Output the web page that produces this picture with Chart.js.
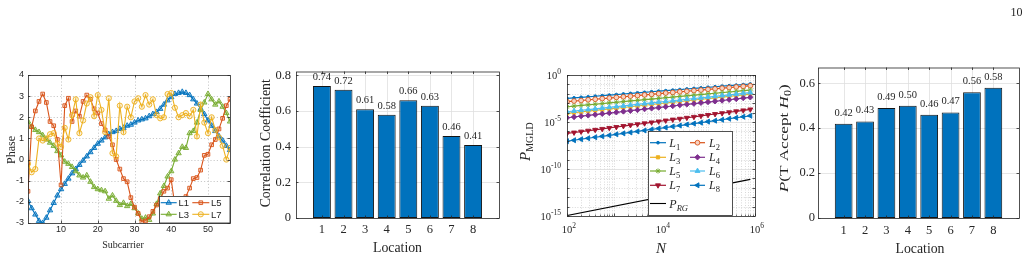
<!DOCTYPE html>
<html><head><meta charset="utf-8">
<script src="https://cdn.jsdelivr.net/npm/chart.js@4.4.1/dist/chart.umd.min.js"></script>
<style>
html,body{margin:0;padding:0;background:#fff;}
body{width:1030px;height:260px;position:relative;overflow:hidden;}
canvas{position:absolute;}
</style></head><body>
<canvas id="c1"></canvas><canvas id="c2"></canvas><canvas id="c3"></canvas><canvas id="c4"></canvas><canvas id="pg" width="30" height="22" style="left:1000px;top:0px;width:30px;height:22px"></canvas>
<script>
// ---------- DATA ----------
const pageNumber = '10';
const subcarriers = [1,2,3,4,5,6,7,8,9,10,11,12,13,14,15,16,17,18,19,20,21,22,23,24,25,26,27,28,29,30,31,32,33,34,35,36,37,38,39,40,41,42,43,44,45,46,47,48,49,50,51,52,53,54,55,56];
const phaseL1 = [-1.95,-2.3,-2.6,-2.9,-3.0,-2.75,-2.4,-2.05,-1.7,-1.4,-1.15,-0.9,-0.65,-0.45,-0.25,-0.05,0.15,0.35,0.55,0.75,0.9,1.05,1.2,1.3,1.35,1.45,1.5,1.6,1.65,1.75,1.85,1.9,1.95,2.05,2.15,2.25,2.4,2.6,2.8,2.95,3.1,3.15,3.2,3.15,3.05,2.85,2.65,2.4,2.15,1.85,1.6,1.35,1.1,0.9,0.65,0.45];
const phaseL3 = [1.8,1.55,1.4,1.3,1.15,0.95,0.8,0.65,0.4,0.2,-0.1,-0.2,-0.35,-0.55,-0.75,-0.85,-0.75,-1.05,-1.3,-1.4,-1.45,-1.5,-1.85,-1.7,-1.95,-2.15,-2.05,-2.2,-2.1,-2.3,-2.55,-2.8,-2.75,-2.85,-2.55,-2.1,-1.6,-1.25,-0.8,-0.55,0.0,0.3,0.6,0.55,1.25,1.35,1.75,2.35,2.7,3.1,2.85,2.6,2.75,2.5,2.2,1.8];
const phaseL5 = [-1.5,1.55,2.3,2.75,3.1,2.7,1.8,1.6,0.95,-1.2,2.55,2.9,1.8,2.3,2.05,2.75,3.05,2.85,2.4,2.2,1.7,1.4,1.1,0.7,0.0,-0.45,-0.9,-1.05,-1.8,-2.25,-2.55,-2.95,-2.9,-2.7,-2.45,-2.15,-1.85,-1.5,-1.35,-0.95,-2.2,-2.6,-2.2,-1.75,-1.35,-0.9,-0.85,-0.5,0.2,0.25,0.7,0.95,1.45,1.95,2.55,2.85];
const phaseL7 = [-0.2,-0.6,-0.45,1.0,0.9,1.0,1.2,1.25,0.75,0.6,1.5,0.95,2.1,2.85,1.25,1.85,2.65,2.95,2.05,3.05,2.35,1.3,2.9,0.3,0.15,2.55,1.3,2.5,2.0,2.75,2.9,2.5,3.05,2.6,2.85,2.1,1.95,2.0,3.1,3.15,2.45,2.0,2.1,2.2,2.05,2.35,1.1,2.6,1.75,1.25,2.0,1.4,1.05,0.65,0.0,0.55];
const phaseXTicks = [10,20,30,40,50];
const phaseYTicks = [-3,-2,-1,0,1,2,3,4];

const locations = [1,2,3,4,5,6,7,8];
const corrCoef = [0.74,0.72,0.61,0.58,0.66,0.63,0.46,0.41];
const corrYTicks = [0,0.2,0.4,0.6,0.8];
const pAccept = [0.42,0.43,0.49,0.50,0.46,0.47,0.56,0.58];
const pAcceptYTicks = [0,0.2,0.4,0.6];

// log10(N) sample positions and log10(P_MGLD) values
const nExp = [2.00,2.15,2.30,2.45,2.60,2.75,2.90,3.05,3.20,3.35,3.50,3.65,3.80,3.95,4.10,4.25,4.40,4.55,4.70,4.85,5.00,5.15,5.30,5.45,5.60,5.75,5.90];
const logP_L1 = [-2.49,-2.43,-2.37,-2.32,-2.26,-2.20,-2.14,-2.08,-2.02,-1.96,-1.90,-1.84,-1.78,-1.72,-1.67,-1.61,-1.55,-1.49,-1.43,-1.37,-1.31,-1.25,-1.19,-1.14,-1.08,-1.02,-0.96];
const logP_L2 = [-2.84,-2.77,-2.71,-2.64,-2.58,-2.51,-2.45,-2.38,-2.32,-2.25,-2.19,-2.12,-2.06,-1.99,-1.92,-1.86,-1.79,-1.73,-1.66,-1.60,-1.53,-1.47,-1.40,-1.34,-1.27,-1.21,-1.14];
const logP_L3 = [-4.09,-4.01,-3.93,-3.85,-3.77,-3.69,-3.61,-3.54,-3.46,-3.38,-3.30,-3.22,-3.14,-3.06,-2.98,-2.90,-2.82,-2.74,-2.66,-2.58,-2.51,-2.43,-2.35,-2.27,-2.19,-2.11,-2.03];
const logP_L4 = [-4.55,-4.47,-4.38,-4.30,-4.22,-4.13,-4.05,-3.97,-3.88,-3.80,-3.72,-3.63,-3.55,-3.47,-3.38,-3.30,-3.21,-3.13,-3.05,-2.96,-2.88,-2.80,-2.71,-2.63,-2.55,-2.46,-2.38];
const logP_L5 = [-3.38,-3.31,-3.24,-3.17,-3.11,-3.04,-2.97,-2.90,-2.83,-2.76,-2.70,-2.63,-2.56,-2.49,-2.42,-2.35,-2.28,-2.22,-2.15,-2.08,-2.01,-1.94,-1.87,-1.81,-1.74,-1.67,-1.60];
const logP_L6 = [-3.91,-3.83,-3.75,-3.68,-3.60,-3.52,-3.44,-3.36,-3.29,-3.21,-3.13,-3.05,-2.97,-2.89,-2.82,-2.74,-2.66,-2.58,-2.50,-2.43,-2.35,-2.27,-2.19,-2.11,-2.04,-1.96,-1.88];
const logP_L7 = [-6.22,-6.12,-6.02,-5.92,-5.83,-5.73,-5.63,-5.53,-5.43,-5.33,-5.24,-5.14,-5.04,-4.94,-4.84,-4.74,-4.65,-4.55,-4.45,-4.35,-4.25,-4.15,-4.06,-3.96,-3.86,-3.76,-3.66];
const logP_L8 = [-7.04,-6.94,-6.83,-6.73,-6.62,-6.52,-6.42,-6.31,-6.21,-6.11,-6.00,-5.90,-5.79,-5.69,-5.59,-5.48,-5.38,-5.27,-5.17,-5.07,-4.96,-4.86,-4.76,-4.65,-4.55,-4.44,-4.34];
const nExpRG = [2.0,5.9];
const logP_RG = [-14.95,-11.1];
const logXTickExp = [2,4,6];
const logYTickExp = [0,-5,-10,-15];

// ---------- STYLE ----------
const SERIF = "'Liberation Serif','Times New Roman',serif";
const SANS = "'Liberation Sans',Arial,sans-serif";
const INK = '#262626';
const C_BLUE='#0072BD', C_ORANGE='#D95319', C_YELLOW='#EDB120', C_PURPLE='#7E2F8E', C_GREEN='#77AC30', C_CYAN='#4DBEEE', C_RED='#A2142F';

(function(){const c=document.getElementById('pg').getContext('2d');c.font='12px '+SERIF;c.fillStyle=INK;c.textBaseline='alphabetic';c.fillText(pageNumber,10.5,16);})();

function setup(id, box, m){
  const cv=document.getElementById(id);
  const w=m.l+(box.r-box.l)+m.r, h=m.t+(box.b-box.t)+m.b;
  cv.width=w; cv.height=h; cv.style.width=w+'px'; cv.style.height=h+'px';
  cv.style.left=(box.l-m.l)+'px'; cv.style.top=(box.t-m.t)+'px';
  return {cv, ox:box.l-m.l, oy:box.t-m.t, m};
}
function line(ctx,x1,y1,x2,y2){ctx.beginPath();ctx.moveTo(x1,y1);ctx.lineTo(x2,y2);ctx.stroke();}
function richWidth(ctx,segs){let w=0;for(const s of segs){ctx.font=s.f;w+=ctx.measureText(s.t).width;}return w;}
function drawRich(ctx,segs,x,y,o){
  o=o||{}; ctx.save(); ctx.translate(x,y); if(o.rot) ctx.rotate(o.rot);
  const w=richWidth(ctx,segs); let sx=1; if(o.width) sx=o.width/w; ctx.scale(sx,1);
  let cx = o.align==='center'? -w/2 : (o.align==='right'? -w : 0);
  ctx.textBaseline='alphabetic'; ctx.textAlign='left'; ctx.fillStyle=o.color||INK;
  for(const s of segs){ctx.font=s.f; ctx.fillText(s.t,cx,s.dy||0); cx+=ctx.measureText(s.t).width;}
  ctx.restore();
}
function frame(ctx,a,xs,ys,len){
  ctx.save(); ctx.strokeStyle=INK; ctx.lineWidth=0.8;
  ctx.strokeRect(a.left+0.5,a.top+0.5,a.right-a.left,a.bottom-a.top);
  xs.forEach(x=>{x=Math.round(x)+0.5; line(ctx,x,a.bottom,x,a.bottom-len); line(ctx,x,a.top,x,a.top+len);});
  ys.forEach(y=>{y=Math.round(y)+0.5; line(ctx,a.left,y,a.left+len,y); line(ctx,a.right,y,a.right-len,y);});
  ctx.restore();
}
function legendSample(ctx,ds,x1,x2,y){
  ctx.save(); ctx.strokeStyle=ds.borderColor; ctx.lineWidth=ds.borderWidth; line(ctx,x1,y,x2,y);
  if(ds.pointRadius>0){ ctx.fillStyle=ds.pointBackgroundColor; ctx.strokeStyle=ds.pointBorderColor; ctx.lineWidth=ds.pointBorderWidth;
    Chart.helpers.drawPoint(ctx,{pointStyle:ds.pointStyle,radius:ds.pointRadius,rotation:ds.pointRotation||0,borderWidth:ds.pointBorderWidth},(x1+x2)/2,y);}
  ctx.restore();
}
function baseScales(S,x,y){
  x.afterFit=s=>{s.height=S.m.b}; y.afterFit=s=>{s.width=S.m.l};
  x.grid={display:false,drawTicks:false}; y.grid={display:false,drawTicks:false};
  x.border={display:false}; y.border={display:false};
  return {x,y};
}
function baseOpts(S,scales){
  return {responsive:false,animation:false,devicePixelRatio:1,
    layout:{padding:{left:0,top:S.m.t,right:S.m.r,bottom:0}},
    plugins:{legend:{display:false},tooltip:{enabled:false}},scales};
}
const setTicks = arr => s => { s.ticks = arr.map(v=>({value:v})); };

// ---------- CHART 1 : Phase ----------
const S1=setup('c1',{l:28,t:75,r:230,b:223},{l:28,t:10,r:10,b:35});
function mk1(label,vals,color,ps,fill,order){
  return {label,data:subcarriers.map((s,i)=>({x:s,y:vals[i]})),borderColor:color,backgroundColor:fill,borderWidth:1.1,
    pointStyle:ps,pointRadius:ps==='triangle'?3.1:2.6,pointBorderWidth:0.9,pointBackgroundColor:fill,pointBorderColor:color,tension:0,order};
}
const ds1=[mk1('L1',phaseL1,C_BLUE,'triangle','rgba(0,114,189,0.4)',4),
  mk1('L3',phaseL3,C_GREEN,'triangle','rgba(119,172,48,0.4)',3),
  mk1('L5',phaseL5,C_ORANGE,'rect','rgba(217,83,25,0.2)',2),
  mk1('L7',phaseL7,C_YELLOW,'circle','rgba(237,177,32,0.15)',1)];
const plug1={id:'p1',
  beforeDatasetsDraw(ch){const ctx=ch.ctx,a=ch.chartArea,X=ch.scales.x,Y=ch.scales.y;
    ctx.save();ctx.strokeStyle='#bcbcbc';ctx.lineWidth=0.8;ctx.setLineDash([1.2,2]);
    phaseXTicks.forEach(v=>{const x=Math.round(X.getPixelForValue(v))+0.5;line(ctx,x,a.top,x,a.bottom);});
    phaseYTicks.slice(1,-1).forEach(v=>{const y=Math.round(Y.getPixelForValue(v))+0.5;line(ctx,a.left,y,a.right,y);});
    ctx.restore();},
  afterDraw(ch){const ctx=ch.ctx,a=ch.chartArea,X=ch.scales.x,Y=ch.scales.y;
    frame(ctx,a,phaseXTicks.map(v=>X.getPixelForValue(v)),phaseYTicks.map(v=>Y.getPixelForValue(v)),2.5);
    ctx.save();ctx.translate(-S1.ox,-S1.oy);
    ctx.fillStyle='#fff';ctx.fillRect(159,196,71,27);ctx.strokeStyle=INK;ctx.lineWidth=0.8;ctx.strokeRect(159.5,196.5,70.5,26.5);
    const rows=[202.7,214.3], cols=[[160.7,176.7,178.5],[192.3,209.3,211]];
    const pos={0:[0,0],1:[0,1],2:[1,0],3:[1,1]};
    ds1.forEach((d,i)=>{const [c,r]=pos[i];const C=cols[c];legendSample(ctx,d,C[0],C[1],rows[r]);
      ctx.fillStyle=INK;ctx.font='9.5px '+SANS;ctx.textBaseline='alphabetic';ctx.fillText(d.label,C[2],rows[r]+3.5);});
    drawRich(ctx,[{t:'Phase',f:'12px '+SERIF}],15,150,{rot:-Math.PI/2,align:'center'});
    drawRich(ctx,[{t:'Subcarrier',f:'10px '+SERIF}],123,248,{align:'center'});
    ctx.restore();}
};
new Chart(S1.cv,{type:'line',data:{datasets:ds1},
  options:baseOpts(S1,baseScales(S1,
    {type:'linear',min:1,max:56,afterBuildTicks:setTicks(phaseXTicks),ticks:{font:{family:SANS,size:9},color:INK,padding:1,maxRotation:0,autoSkip:false}},
    {type:'linear',min:-3,max:4,afterBuildTicks:setTicks(phaseYTicks),ticks:{font:{family:SANS,size:9},color:INK,padding:4,autoSkip:false}})),
  plugins:[plug1]});

// ---------- BAR CHART helper ----------
function barChart(id,box,m,vals,yTicks,ymax,gap,yPad,xPad,titleSegs,titleX,titleY,titleW,locX,locY){
  const S=setup(id,box,m);
  const plug={id:'pb'+id,
    beforeDatasetsDraw(ch){const ctx=ch.ctx,a=ch.chartArea,X=ch.scales.x,Y=ch.scales.y;
      ctx.save();ctx.strokeStyle='#e0e0e0';ctx.lineWidth=0.8;
      locations.forEach(v=>{const x=Math.round(X.getPixelForValue(v))+0.5;line(ctx,x,a.top,x,a.bottom);});
      yTicks.slice(1).forEach(v=>{const y=Math.round(Y.getPixelForValue(v))+0.5;line(ctx,a.left,y,a.right,y);});
      ctx.restore();},
    afterDatasetsDraw(ch){const ctx=ch.ctx;const meta=ch.getDatasetMeta(0);
      ctx.save();ctx.font='10.5px '+SERIF;ctx.fillStyle=INK;ctx.textAlign='center';ctx.textBaseline='alphabetic';
      meta.data.forEach((b,i)=>ctx.fillText(vals[i].toFixed(2),b.x,b.y-gap));ctx.restore();},
    afterDraw(ch){const ctx=ch.ctx,a=ch.chartArea,X=ch.scales.x,Y=ch.scales.y;
      frame(ctx,a,locations.map(v=>X.getPixelForValue(v)),yTicks.map(v=>Y.getPixelForValue(v)),2.5);
      ctx.save();ctx.translate(-S.ox,-S.oy);
      drawRich(ctx,titleSegs,titleX,titleY,{rot:-Math.PI/2,align:'center',width:titleW});
      drawRich(ctx,[{t:'Location',f:'13.8px '+SERIF}],locX,locY,{align:'center'});
      ctx.restore();}
  };
  new Chart(S.cv,{type:'bar',
    data:{datasets:[{data:locations.map((l,i)=>({x:l,y:vals[i]})),backgroundColor:C_BLUE,borderColor:'#141414',borderWidth:1,borderSkipped:false,barPercentage:0.83,categoryPercentage:1}]},
    options:baseOpts(S,baseScales(S,
      {type:'linear',offset:false,min:-0.2,max:9.2,afterBuildTicks:setTicks(locations),ticks:{font:{family:SERIF,size:12.5},color:INK,padding:xPad,maxRotation:0,autoSkip:false}},
      {type:'linear',min:0,max:ymax,afterBuildTicks:setTicks(yTicks),ticks:{font:{family:SERIF,size:12.5},color:INK,padding:yPad,autoSkip:false,callback:v=>String(v)}})),
    plugins:[plug]});
}
barChart('c2',{l:296,t:69,r:499,b:218},{l:50,t:10,r:10,b:40},corrCoef,corrYTicks,0.822,6,5,4,
  [{t:'Correlation Coefficient',f:'13.8px '+SERIF}],269.5,143.3,null,397.5,252);
barChart('c4',{l:818,t:67,r:1019,b:218},{l:50,t:10,r:10,b:40},pAccept,pAcceptYTicks,0.67,8,3,5,
  [{t:'P',f:'italic 13.5px '+SERIF},{t:'(T Accept ',f:'13.5px '+SERIF},{t:'H',f:'italic 13.5px '+SERIF},{t:'0',f:'9.5px '+SERIF,dy:3},{t:')',f:'13.5px '+SERIF}],787.5,138.3,108,920,253);

// ---------- CHART 3 : log-log ----------
const S3=setup('c3',{l:567,t:75,r:755,b:216},{l:57,t:15,r:20,b:42});
function mk3(label,sub,vals,color,ps,r,fill,rot){
  return {label,sub,data:nExp.map((e,i)=>({x:Math.pow(10,e),y:Math.pow(10,vals[i])})),borderColor:color,borderWidth:1.2,
    pointStyle:ps,pointRadius:r,pointRotation:rot||0,pointBorderWidth:0.9,pointBackgroundColor:fill,pointBorderColor:color,tension:0};
}
const ds3=[
  mk3('L','1',logP_L1,C_BLUE,'circle',1.4,C_BLUE),
  mk3('L','2',logP_L2,C_ORANGE,'circle',2.4,'#f6d2c2'),
  mk3('L','3',logP_L3,C_YELLOW,'rect',2.3,C_YELLOW),
  mk3('L','4',logP_L4,C_PURPLE,'rectRot',2.7,C_PURPLE),
  mk3('L','5',logP_L5,C_GREEN,'star',2.6,C_GREEN),
  mk3('L','6',logP_L6,C_CYAN,'triangle',2.9,C_CYAN),
  mk3('L','7',logP_L7,C_RED,'triangle',2.9,C_RED,180),
  mk3('L','8',logP_L8,C_BLUE,'triangle',2.9,C_BLUE,270),
  {label:'P',sub:'RG',data:nExpRG.map((e,i)=>({x:Math.pow(10,e),y:Math.pow(10,logP_RG[i])})),borderColor:'#000',borderWidth:1.1,pointRadius:0,pointBackgroundColor:'#000',pointBorderColor:'#000',pointBorderWidth:0,tension:0}
];
ds3.forEach((d,i)=>{d.order=ds3.length-i;});
const plug3={id:'p3',
  beforeDatasetsDraw(ch){const ctx=ch.ctx,a=ch.chartArea,X=ch.scales.x,Y=ch.scales.y;
    ctx.save();ctx.lineWidth=0.8;
    ctx.strokeStyle='#cfcfcf';ctx.setLineDash([1,1.6]);
    for(let d=2;d<6;d++){for(let k=2;k<=10;k++){const v=k*Math.pow(10,d);if(v===1e4||v>=1e6)continue;
      const x=Math.round(X.getPixelForValue(v))+0.5;line(ctx,x,a.top,x,a.bottom);}}
    for(let e=-14;e<=-1;e++){if(e===-5||e===-10)continue;const y=Math.round(Y.getPixelForValue(Math.pow(10,e)))+0.5;line(ctx,a.left,y,a.right,y);}
    ctx.setLineDash([]);ctx.strokeStyle='#dcdcdc';
    [1e4].forEach(v=>{const x=Math.round(X.getPixelForValue(v))+0.5;line(ctx,x,a.top,x,a.bottom);});
    [-5,-10].forEach(e=>{const y=Math.round(Y.getPixelForValue(Math.pow(10,e)))+0.5;line(ctx,a.left,y,a.right,y);});
    ctx.restore();},
  afterDraw(ch){const ctx=ch.ctx,a=ch.chartArea,X=ch.scales.x,Y=ch.scales.y;
    const xs=[],ys=[];for(let d=2;d<=6;d++)xs.push(X.getPixelForValue(Math.pow(10,d)));
    for(let e=-15;e<=0;e++)ys.push(Y.getPixelForValue(Math.pow(10,e)));
    frame(ctx,a,xs,ys,2.5);
    ctx.save();ctx.strokeStyle=INK;ctx.lineWidth=0.6;
    for(let d=2;d<6;d++){for(let k=2;k<=9;k++){const x=Math.round(X.getPixelForValue(k*Math.pow(10,d)))+0.5;line(ctx,x,a.bottom,x,a.bottom-1.5);line(ctx,x,a.top,x,a.top+1.5);}}
    ctx.restore();
    ctx.save();ctx.translate(-S3.ox,-S3.oy);
    const bf='10.5px '+SERIF, ef='7.5px '+SERIF;
    logYTickExp.forEach(e=>{const y=Y.getPixelForValue(Math.pow(10,e))+S3.oy;
      drawRich(ctx,[{t:'10',f:bf},{t:String(e),f:ef,dy:-5}],a.left+S3.ox-6,y+4,{align:'right'});});
    logXTickExp.forEach(e=>{const x=X.getPixelForValue(Math.pow(10,e))+S3.ox;
      ctx.font=bf;const w=ctx.measureText('10').width;
      drawRich(ctx,[{t:'10',f:bf},{t:String(e),f:ef,dy:-5}],x-w/2,233,{});});
    drawRich(ctx,[{t:'P',f:'italic 15px '+SERIF},{t:'MGLD',f:'10px '+SERIF,dy:3}],530,141.7,{rot:-Math.PI/2,align:'center'});
    drawRich(ctx,[{t:'N',f:'italic 15px '+SERIF}],661,253,{align:'center'});
    ctx.fillStyle='#fff';ctx.fillRect(648,131,85,85);ctx.strokeStyle=INK;ctx.lineWidth=0.8;ctx.strokeRect(648.5,131.5,84,84);
    const rows=[142.7,157.3,171,185.3,203.5], cols=[[650,666,669.3],[690,705,709]];
    ds3.forEach((d,i)=>{const r=Math.floor(i/2),c=i%2;const C=cols[c];const y=rows[r];
      legendSample(ctx,d,C[0],C[1],y);
      drawRich(ctx,[{t:d.label,f:'italic 12px '+SERIF},{t:d.sub,f:(d.sub==='RG'?'italic ':'')+'8.5px '+SERIF,dy:3}],C[2],y+4,{});});
    ctx.restore();}
};
new Chart(S3.cv,{type:'line',data:{datasets:ds3},
  options:baseOpts(S3,baseScales(S3,
    {type:'logarithmic',min:1e2,max:1e6,ticks:{display:false}},
    {type:'logarithmic',min:1e-15,max:1,ticks:{display:false}})),
  plugins:[plug3]});
</script>
</body></html>
